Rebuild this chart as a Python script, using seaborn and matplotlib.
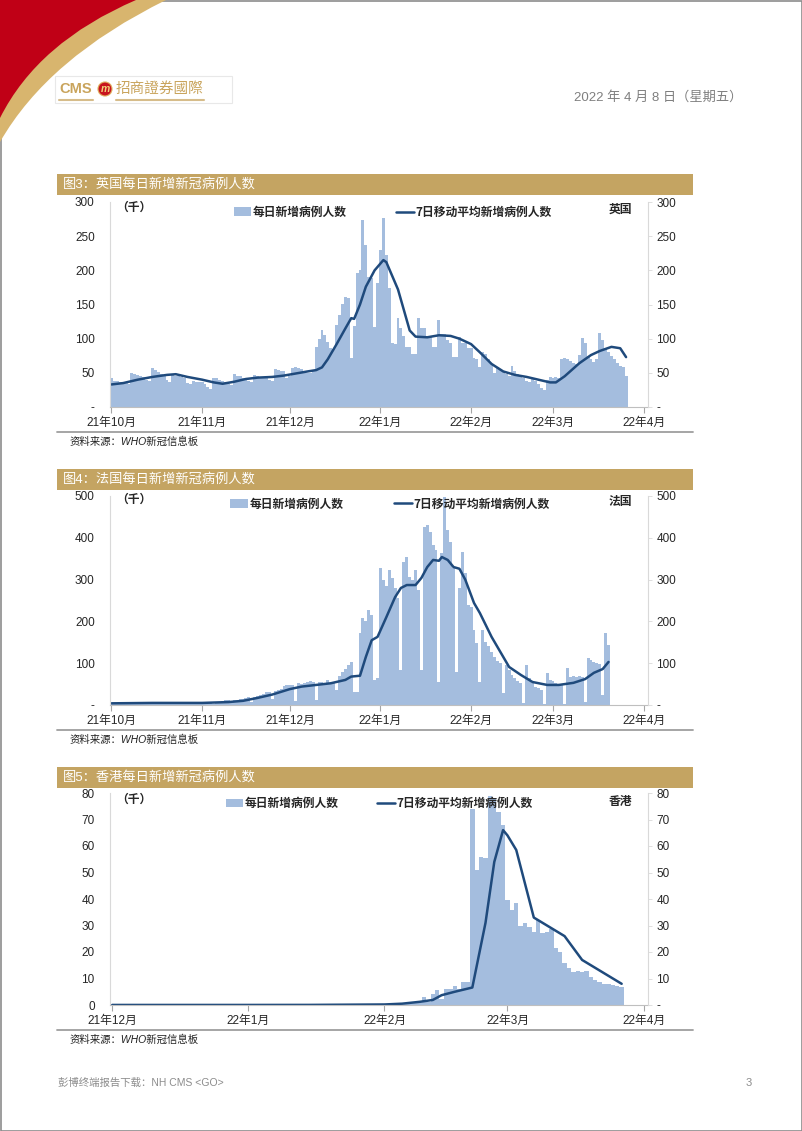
import pandas as pd
import matplotlib
matplotlib.use("Agg")
import matplotlib.pyplot as plt
import matplotlib.dates as mdates
from matplotlib.patches import Rectangle, PathPatch, Circle, Patch
from matplotlib.lines import Line2D
from matplotlib.path import Path
import seaborn as sns

sns.set_style("white")
plt.rcParams["font.family"] = ["Liberation Sans", "Noto Sans CJK SC"]

BAR_COLOR = "#A4BDDE"
LINE_COLOR = "#1F4A7C"
GOLD = "#C4A462"

# -----------------------------------------------------
# 英国 每日新增 (千), 2021-10-01 起
# -----------------------------------------------------
uk_oct = [43, 38, 38, 37, 36, 35, 33, 50, 48, 47, 45, 44, 40, 38, 57, 54, 51, 49, 47, 40, 36,
          48, 46, 45, 44, 43, 35, 34, 38, 37, 36]
uk_nov = [36, 34, 30, 27, 43, 42, 40, 38, 36, 33, 32, 48, 46, 45, 43, 42, 38, 36, 47, 46, 44,
          43, 42, 40, 38, 55, 54, 53, 52, 42]
uk_dec = [45, 57, 58, 57, 55, 52, 50, 50, 52, 88, 100, 113, 105, 95, 87, 85, 120, 135, 150, 161,
          160, 72, 118, 196, 200, 274, 237, 190, 189, 117, 181]
uk_jan = [230, 277, 222, 174, 94, 92, 130, 115, 104, 88, 88, 78, 78, 130, 115, 115, 103, 103, 88,
          88, 127, 107, 107, 98, 93, 73, 73, 103, 94, 94, 86]
uk_feb = [86, 72, 70, 58, 80, 78, 70, 63, 50, 58, 55, 52, 48, 45, 60, 52, 48, 45, 42, 38, 36,
          42, 38, 33, 28, 25, 40, 44]
uk_mar = [42, 44, 43, 70, 71, 70, 68, 65, 63, 76, 101, 94, 74, 70, 66, 70, 108, 98, 86, 81, 75,
          70, 65, 60, 58, 45]

uk_ma_dates = ["2021-10-01", "2021-10-05", "2021-10-10", "2021-10-15", "2021-10-20", "2021-10-23",
               "2021-10-27", "2021-11-01", "2021-11-05", "2021-11-08", "2021-11-12", "2021-11-16",
               "2021-11-20", "2021-11-25", "2021-11-29", "2021-12-03", "2021-12-07", "2021-12-10",
               "2021-12-12", "2021-12-14", "2021-12-17", "2021-12-20", "2021-12-22", "2021-12-23",
               "2021-12-25", "2021-12-27", "2021-12-30", "2022-01-02", "2022-01-03", "2022-01-05",
               "2022-01-07", "2022-01-09", "2022-01-11", "2022-01-13", "2022-01-17", "2022-01-21",
               "2022-01-25", "2022-01-28", "2022-02-01", "2022-02-04", "2022-02-08", "2022-02-12",
               "2022-02-16", "2022-02-20", "2022-02-24", "2022-02-28", "2022-03-02", "2022-03-05",
               "2022-03-10", "2022-03-14", "2022-03-17", "2022-03-21", "2022-03-24", "2022-03-26"]
uk_ma = [33, 35, 40, 44, 47, 48, 44, 40, 36, 34, 37, 41, 43, 44, 46, 49, 52, 54, 58, 70, 92, 115,
         130, 129, 150, 176, 200, 215, 212, 192, 172, 142, 112, 103, 102, 105, 104, 100, 92, 80,
         63, 52, 47, 44, 40, 36, 36, 45, 64, 76, 82, 88, 86, 73]

# -----------------------------------------------------
# 法国 每日新增 (千), 2021-10-01 起
# -----------------------------------------------------
fr_oct = [4, 5, 5, 2, 5, 5, 5, 4, 4, 2, 5, 6, 5, 5, 4, 4, 2, 6, 6, 6, 5, 5, 4, 2, 6, 6, 6, 6,
          5, 5, 3]
fr_nov = [5, 6, 8, 8, 3, 7, 8, 10, 11, 11, 5, 12, 13, 14, 15, 17, 18, 8, 20, 22, 24, 26, 30, 32,
          15, 34, 36, 38, 45, 47]
fr_dec = [47, 49, 10, 52, 50, 53, 55, 57, 56, 12, 55, 54, 53, 60, 52, 52, 37, 70, 78, 86, 95,
          103, 31, 31, 172, 208, 202, 227, 215, 60, 65]
fr_jan = [328, 300, 285, 322, 303, 280, 256, 84, 342, 355, 306, 300, 322, 275, 84, 426, 430, 414,
          382, 370, 55, 363, 498, 418, 390, 328, 80, 280, 366, 315, 240]
fr_feb = [235, 179, 148, 55, 180, 151, 140, 127, 115, 105, 100, 28, 96, 84, 72, 64, 58, 52, 5,
          96, 64, 52, 44, 40, 36, 2, 77, 60]
fr_mar = [58, 52, 50, 48, 3, 88, 67, 70, 67, 70, 68, 8, 112, 108, 103, 100, 97, 24, 172, 143]

fr_ma_dates = ["2021-10-01", "2021-10-15", "2021-11-01", "2021-11-10", "2021-11-15", "2021-11-20",
               "2021-11-25", "2021-12-01", "2021-12-05", "2021-12-10", "2021-12-15", "2021-12-20",
               "2021-12-22", "2021-12-25", "2021-12-27", "2021-12-29", "2021-12-31", "2022-01-03",
               "2022-01-06", "2022-01-08", "2022-01-10", "2022-01-13", "2022-01-15", "2022-01-17",
               "2022-01-19", "2022-01-21", "2022-01-22", "2022-01-24", "2022-01-26", "2022-01-28",
               "2022-01-30", "2022-02-02", "2022-02-04", "2022-02-08", "2022-02-11", "2022-02-14",
               "2022-02-18", "2022-02-22", "2022-02-27", "2022-03-03", "2022-03-08", "2022-03-12",
               "2022-03-15", "2022-03-18", "2022-03-20"]
fr_ma = [4, 5, 5, 7, 10, 17, 25, 38, 44, 48, 52, 60, 68, 70, 115, 155, 163, 210, 258, 280, 287,
         287, 304, 330, 347, 345, 354, 347, 330, 326, 300, 244, 220, 163, 127, 91, 72, 55, 48, 48,
         53, 62, 77, 86, 103]

# -----------------------------------------------------
# 香港 每日新增 (千), 2021-12-01 起
# -----------------------------------------------------
hk_dec = [0.01, 0.02, 0.01, 0.01, 0.02, 0.01, 0.02, 0.01, 0.01, 0.02, 0.01, 0.01, 0.02, 0.01,
          0.02, 0.01, 0.01, 0.02, 0.01, 0.02, 0.01, 0.01, 0.02, 0.01, 0.02, 0.03, 0.02, 0.02,
          0.02, 0.03, 0.02]
hk_jan = [0.01, 0.02, 0.01, 0.02, 0.02, 0.03, 0.02, 0.02, 0.03, 0.02, 0.03, 0.02, 0.03, 0.04,
          0.03, 0.03, 0.05, 0.06, 0.03, 0.04, 0.07, 0.05, 0.07, 0.12, 0.08, 0.11, 0.16, 0.11,
          0.10, 0.13, 0.10]
hk_feb = [0.06, 0.1, 0.13, 0.15, 0.35, 0.6, 0.6, 0.6, 1.2, 2.9, 1.0, 4.0, 5.8, 2.4, 6.0, 6.0,
          7.3, 6.0, 8.6, 8.6, 74, 51, 56, 55.5, 79, 78, 73, 68]
hk_mar = [39.5, 36, 38.5, 30, 31, 29.5, 27.5, 32, 27, 27.5, 28.5, 21.5, 20, 16, 14, 12.5, 13,
          12.5, 13, 10.6, 9.4, 8.8, 8.1, 7.9, 7.5, 7.1, 6.9]

hk_ma_dates = ["2021-12-01", "2021-12-15", "2022-01-01", "2022-01-15", "2022-02-01", "2022-02-05",
               "2022-02-09", "2022-02-12", "2022-02-14", "2022-02-17", "2022-02-21", "2022-02-24",
               "2022-02-26", "2022-02-28", "2022-03-01", "2022-03-03", "2022-03-07", "2022-03-10",
               "2022-03-11", "2022-03-14", "2022-03-18", "2022-03-21", "2022-03-24", "2022-03-27"]
hk_ma = [0.02, 0.02, 0.02, 0.04, 0.2, 0.5, 1.2, 1.9, 3.7, 5.0, 6.6, 31, 54, 66, 64, 58.5, 33, 30,
         29, 26, 17, 14, 11, 8]

month_ticks_long = ["2021-10-01", "2021-11-01", "2021-12-01", "2022-01-01", "2022-02-01",
                    "2022-03-01", "2022-04-01"]
month_labels_long = ["21年10月", "21年11月", "21年12月", "22年1月", "22年2月", "22年3月", "22年4月"]
month_ticks_hk = ["2021-12-01", "2022-01-01", "2022-02-01", "2022-03-01", "2022-04-01"]
month_labels_hk = ["21年12月", "22年1月", "22年2月", "22年3月", "22年4月"]

legend_labels = ["每日新增病例人数", "7日移动平均新增病例人数"]

W, H = 802, 1131
fig = plt.figure(figsize=(W / 100, H / 100), dpi=100)

# 页面底层: 像素坐标
bg = fig.add_axes([0, 0, 1, 1])
bg.set_xlim(0, W)
bg.set_ylim(H, 0)
bg.axis("off")

bg.add_patch(Rectangle((0.5, 0.5), W - 1, H - 1, fill=False, edgecolor="#8C8C8C", lw=1.2))

# 左上角装饰
gold_path = Path([(0, 0), (166, 0), (48, 58), (0, 142), (0, 0)],
                 [Path.MOVETO, Path.LINETO, Path.CURVE3, Path.CURVE3, Path.CLOSEPOLY])
red_path = Path([(0, 0), (136, 0), (38, 42), (0, 118), (0, 0)],
                [Path.MOVETO, Path.LINETO, Path.CURVE3, Path.CURVE3, Path.CLOSEPOLY])
bg.add_patch(PathPatch(gold_path, facecolor="#D8B56E", edgecolor="none"))
bg.add_patch(PathPatch(red_path, facecolor="#C00016", edgecolor="none"))

# logo
bg.add_patch(Rectangle((55, 76), 177, 27, fill=False, edgecolor="#E8E8E8", lw=0.8))
bg.text(59, 89, "CMS", fontsize=10.5, fontweight="bold", color="#C9A45C", va="center",
        family="Liberation Sans")
bg.add_patch(Circle((105, 89), 7, facecolor="#C8141E", edgecolor="#E0B060", lw=0.8))
bg.text(105, 89.5, "m", fontsize=7.5, fontweight="bold", style="italic", color="#F2D27A",
        ha="center", va="center")
bg.text(116, 89, "招商證券國際", fontsize=10.5, color="#C9A45C", va="center",
        family=["Noto Sans CJK TC"])
bg.plot([59, 93], [100, 100], color="#D6BC8A", lw=1.5)
bg.plot([116, 204], [100, 100], color="#D6BC8A", lw=1.5)

bg.text(742, 97, "2022 年 4 月 8 日（星期五）", fontsize=9.5, color="#7F7F7F", ha="right",
        va="center")

bg.text(58, 1083, "彭博终端报告下载：NH CMS <GO>", fontsize=7.5, color="#8C8C8C", va="center")
bg.text(752, 1083, "3", fontsize=8, color="#8C8C8C", ha="right", va="center")


def draw_panel(title, title_y, top, bottom, start, daily, ma_dates, ma_vals, ymax, ystep,
               zero_left, country, ticks, tick_labels, x_end, label_y, leg_x, colspace):
    # 标题条
    bg.add_patch(Rectangle((57, title_y), 636, 21, facecolor=GOLD, edgecolor="none"))
    bg.text(63, title_y + 10.5, title, color="white", fontsize=9.5, va="center")
    # 下方分隔线与来源
    sep_y = bottom + 25
    bg.plot([57, 693], [sep_y, sep_y], color="#9E9E9E", lw=1.3)
    bg.text(70, sep_y + 9.5, "资料来源：WHO新冠信息板", fontsize=7.5, style="italic",
            va="center", color="#222222")

    ax = fig.add_axes([110 / W, 1 - bottom / H, 538 / W, (bottom - top) / H])
    x = mdates.date2num(pd.date_range(start, periods=len(daily), freq="D"))
    sns.barplot(x=x, y=daily, native_scale=True, width=1.0, color=BAR_COLOR, saturation=1,
                errorbar=None, linewidth=0, ax=ax)
    sns.lineplot(x=mdates.date2num(pd.to_datetime(ma_dates)), y=ma_vals, color=LINE_COLOR,
                 linewidth=1.8, ax=ax)

    x0 = mdates.date2num(pd.Timestamp(ticks[0])) - 0.5
    ax.set_xlim(x0, mdates.date2num(pd.Timestamp(x_end)))
    ax.set_ylim(0, ymax)
    yt = list(range(0, ymax + 1, ystep))
    ax.set_yticks(yt)
    ax.set_yticklabels([zero_left] + [str(v) for v in yt[1:]])
    ax.set_xticks(mdates.date2num(pd.to_datetime(ticks)))
    ax.set_xticklabels(tick_labels)
    ax.set_xlabel("")
    ax.set_ylabel("")
    ax.tick_params(axis="y", length=0, pad=11, labelsize=8.5)
    ax.tick_params(axis="x", length=4, width=0.8, color="#A6A6A6", pad=3, labelsize=8.5,
                   bottom=True)
    for side in ["top", "right"]:
        ax.spines[side].set_visible(False)
    ax.spines["left"].set_color("#D9D9D9")
    ax.spines["left"].set_linewidth(0.8)
    ax.spines["bottom"].set_color("#BFBFBF")
    ax.spines["bottom"].set_linewidth(0.8)

    ax2 = ax.twinx()
    ax2.set_ylim(0, ymax)
    ax2.set_yticks(yt)
    ax2.set_yticklabels(["-"] + [str(v) for v in yt[1:]])
    ax2.tick_params(axis="y", length=3, width=0.6, color="#D9D9D9", pad=3, labelsize=8.5)
    for side in ["top", "left", "bottom"]:
        ax2.spines[side].set_visible(False)
    ax2.spines["right"].set_color("#D9D9D9")
    ax2.spines["right"].set_linewidth(0.8)

    handles = [Patch(facecolor=BAR_COLOR, edgecolor="none"),
               Line2D([0], [0], color=LINE_COLOR, lw=1.8)]
    ax.legend(handles, legend_labels, loc="upper center", bbox_to_anchor=(leg_x, label_y + 0.03),
              ncol=2, frameon=False, columnspacing=colspace, handlelength=1.5, handletextpad=0.1,
              borderaxespad=0, prop={"family": ["Noto Sans CJK SC"], "weight": "bold",
                                     "size": 8.5})
    ax.text(0.012, label_y, "（千）", transform=ax.transAxes, fontsize=8.5, fontweight="bold",
            va="center", ha="left", family=["Noto Sans CJK SC"])
    ax.text(0.97, label_y - 0.01, country, transform=ax.transAxes, fontsize=8.5,
            fontweight="bold", va="center", ha="right", family=["Noto Sans CJK SC"])
    return ax


draw_panel("图3：英国每日新增新冠病例人数", 174, 202, 407, "2021-10-01",
           uk_oct + uk_nov + uk_dec + uk_jan + uk_feb + uk_mar, uk_ma_dates, uk_ma,
           300, 50, "-", "英国", month_ticks_long, month_labels_long, "2022-04-02 12:00", 0.975,
           0.525, 4.2)
draw_panel("图4：法国每日新增新冠病例人数", 469, 496, 705, "2021-10-01",
           fr_oct + fr_nov + fr_dec + fr_jan + fr_feb + fr_mar, fr_ma_dates, fr_ma,
           500, 100, "-", "法国", month_ticks_long, month_labels_long, "2022-04-02 12:00", 0.985,
           0.52, 4.3)
draw_panel("图5：香港每日新增新冠病例人数", 767, 793, 1005, "2021-12-01",
           hk_dec + hk_jan + hk_feb + hk_mar, hk_ma_dates, hk_ma,
           80, 10, "0", "香港", month_ticks_hk, month_labels_hk, "2022-04-02", 0.972,
           0.5, 3.3)

fig.savefig("out.png", dpi=100)
